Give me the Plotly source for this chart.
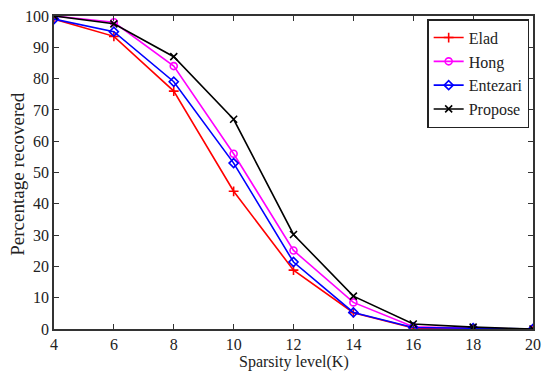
import plotly.graph_objects as go

k = [4, 6, 8, 10, 12, 14, 16, 18, 20]
elad = [99, 93.5, 76, 44, 18.8, 5.2, 0.3, 0, 0]
hong = [100, 98, 84, 56, 25.1, 8.5, 0.7, 0.2, 0]
entezari = [99, 95, 79, 53, 21.4, 5.3, 0.5, 0.3, 0]
propose = [100, 97.5, 87, 67, 30.2, 10.5, 1.6, 0.6, 0]

series = [
    ("Elad", elad, "#ff0000", "cross-thin-open"),
    ("Hong", hong, "#ff00ff", "circle-open"),
    ("Entezari", entezari, "#0000ff", "diamond-open"),
    ("Propose", propose, "#000000", "x-thin-open"),
]

SERIF = "Times New Roman, Liberation Serif, serif"

fig = go.Figure()
for name, vals, col, sym in series:
    fig.add_trace(go.Scatter(
        x=k, y=vals, name=name, mode="lines+markers",
        line=dict(color=col, width=1.6),
        marker=dict(symbol=sym, size=7, color=col, line=dict(color=col, width=1.6)),
    ))

axis_common = dict(
    showline=True, linecolor="#333", linewidth=1.5, mirror="ticks",
    ticks="inside", ticklen=5, tickcolor="#333", showgrid=False, zeroline=False,
    automargin=False,
    tickfont=dict(family=SERIF, size=16, color="#222"),
)
fig.update_layout(
    width=550, height=377,
    margin=dict(l=54, r=17, t=16, b=48),
    paper_bgcolor="white", plot_bgcolor="white",
    font=dict(family=SERIF, size=15, color="#222"),
    xaxis=dict(range=[4, 20], tickvals=list(range(4, 21, 2)), **axis_common),
    yaxis=dict(range=[0, 100], tickvals=list(range(0, 101, 10)), **axis_common),
    legend=dict(x=0.992, y=0.99, xanchor="right", yanchor="top",
                bordercolor="#222", borderwidth=1.5, bgcolor="white",
                font=dict(family=SERIF, size=16, color="#222"),
                tracegroupgap=0, itemwidth=30),
    showlegend=True,
    annotations=[
        dict(text="Sparsity level(K)", xref="paper", yref="paper", x=0.5, y=-0.107,
             xanchor="center", yanchor="middle", showarrow=False,
             font=dict(family=SERIF, size=16, color="#222")),
        dict(text="Percentage recovered", xref="paper", yref="paper", x=-0.078, y=0.495,
             xanchor="center", yanchor="middle", showarrow=False, textangle=-90,
             font=dict(family=SERIF, size=19, color="#222")),
    ],
)
fig.write_html("out.html", config={"displayModeBar": False},
               post_script="document.body.style.margin='0';")
